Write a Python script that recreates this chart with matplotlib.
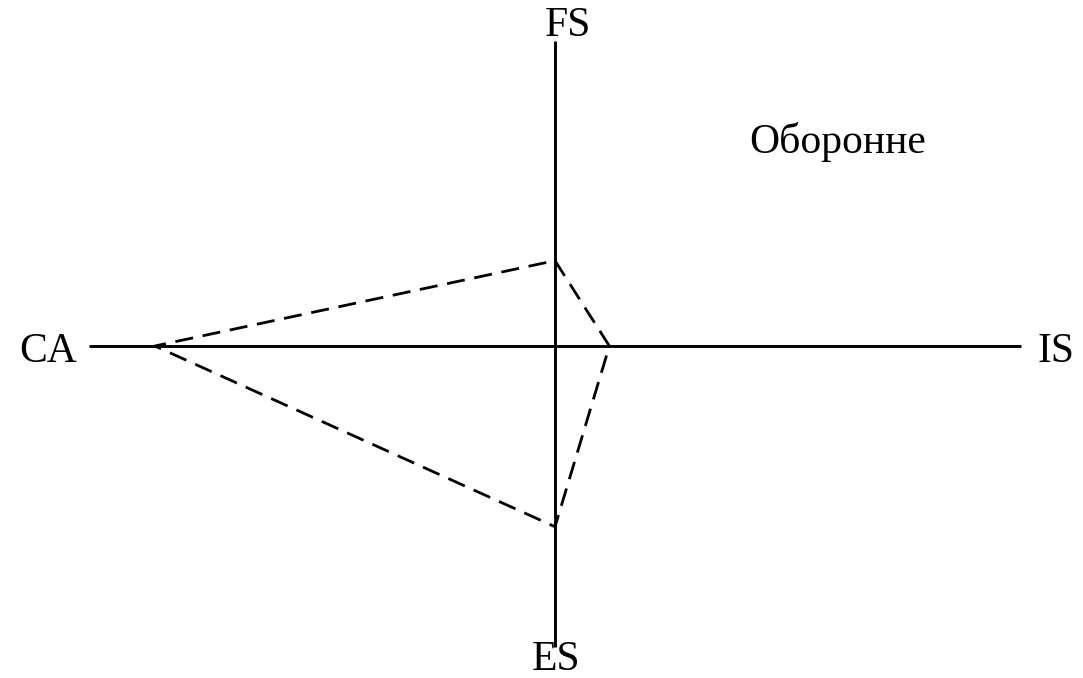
import matplotlib
matplotlib.use("Agg")
import matplotlib.pyplot as plt

# SPACE matrix values
axis_labels = ["FS", "IS", "ES", "CA"]
axis_values = [1.7, 0.7, -3.6, -5.15]   # FS (y+), IS (x+), ES (y-), CA (x-)
axis_limit = 6.0
quadrant_label = "Оборонне"

W, H = 1083, 678
fig = plt.figure(figsize=(W / 100, H / 100), dpi=100)
ax = fig.add_axes([0, 0, 1, 1])
sx, sy = 77.7, 50.2          # px per unit
cx, cy = 555, 346            # origin in pixels (from top)
ax.set_xlim(-cx / sx, (W - cx) / sx)
ax.set_ylim((cy - H) / sy, cy / sy)
ax.axis("off")

# axes lines
ax.plot([-axis_limit, axis_limit], [0, 0], color="black", lw=2.1, solid_capstyle="butt")
ax.plot([0, 0], [-axis_limit, axis_limit * 1.013], color="black", lw=2.1, solid_capstyle="butt")

fs, is_, es, ca = axis_values
xs = [0, is_, 0, ca, 0]
ys = [fs, 0, es, 0, fs]
ax.plot(xs, ys, color="black", lw=2.0, linestyle=(0, (6.5, 3.5)))

font = dict(family="Liberation Serif", fontsize=30, color="black")
def put(text, px, py_base, ha="center"):
    fig.text(px / W, 1 - py_base / H, text, ha=ha, va="baseline", **font)

put(axis_labels[0], 568, 36)
put(axis_labels[2], 556, 670)
put(axis_labels[3], 48, 362)
put(axis_labels[1], 1056, 362)
put(quadrant_label, 838, 153)

fig.savefig("out.png", dpi=100)
